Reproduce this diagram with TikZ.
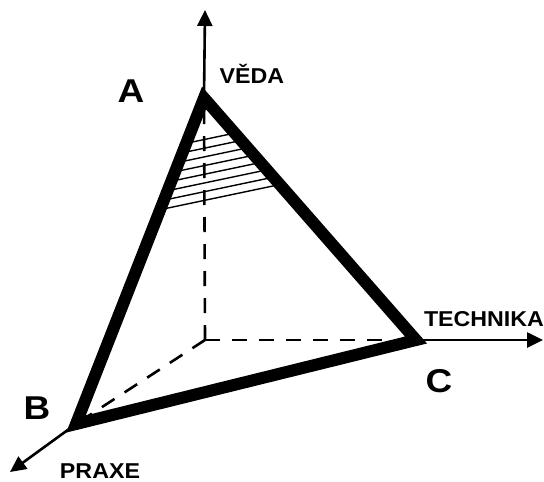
\documentclass[tikz,border=0pt]{standalone}
\usepackage{fontspec}
\setmainfont{Liberation Sans}
\usetikzlibrary{arrows.meta}
\begin{document}
\begin{tikzpicture}[x=1pt,y=-1pt,
  axis/.style={line width=2.6pt,-{Triangle[length=16pt,width=15pt]}},
  dashline/.style={line width=2.6pt,dash pattern=on 15pt off 12pt},
  edge/.style={line width=12pt,line join=miter,miter limit=10},
  hatch/.style={line width=1.4pt},
  vlabel/.style={font=\bfseries\fontsize{33}{33}\selectfont,xscale=1.12,inner sep=0pt,anchor=base},
  alabel/.style={font=\bfseries\fontsize{21.5}{21.5}\selectfont,xscale=1.08,inner sep=0pt,anchor=base}]
\useasboundingbox (0,0) rectangle (544,482);
\coordinate (O) at (205,340);
\coordinate (A) at (204,98);
\coordinate (B) at (76,424);
\coordinate (C) at (416,340);
\coordinate (Vend) at (205,10);
\coordinate (Hend) at (543,340);
\coordinate (Dend) at (10,472);
% axes
\draw[axis] (A) -- (Vend);
\draw[axis] (C) -- (Hend);
\draw[axis] (B) -- (Dend);
% dashed
\draw[dashline] (O) -- (A);
\draw[dashline] (O) -- (C);
\draw[dashline] (O) -- (B);
% hatching
\begin{scope}
\clip (A) -- (B) -- (C) -- cycle;
\foreach \i in {0,...,7}{
  \draw[hatch] (140,{153+8.7*\i}) -- (320,{153+8.7*\i-0.21*180});
}
\end{scope}
% triangle
\draw[edge] (A) -- (B) -- (C) -- cycle;
% labels
\node[vlabel] (la) at (131,102) {A};
\node[vlabel] (lb) at (37,419) {B};
\node[vlabel] (lc) at (439,392) {C};
\node[alabel] (lv) at (252,83) {VĚDA};
\node[alabel] (lt) at (484,326) {TECHNIKA};
\node[alabel] (lp) at (100,478) {PRAXE};
\end{tikzpicture}
\end{document}
